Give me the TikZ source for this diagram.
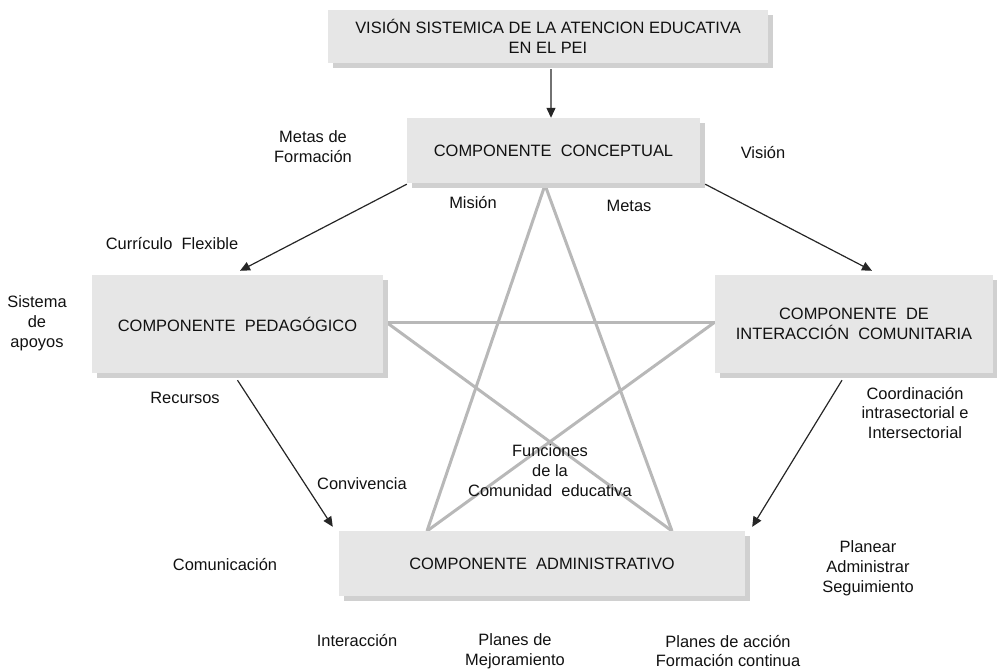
\documentclass[tikz,border=0pt]{standalone}
\usepackage{fontspec}
\setmainfont{Liberation Sans}
\usepackage{tikz}
\usetikzlibrary{calc}
\usetikzlibrary{shadows}
\usetikzlibrary{arrows.meta}
\definecolor{boxfill}{HTML}{E6E6E6}
\definecolor{boxshade}{HTML}{D0D0D0}
\definecolor{stargray}{HTML}{B8B8B8}
\definecolor{txt}{HTML}{111111}
\tikzset{
  comp/.style={fill=boxfill, inner sep=0pt, align=center, text=txt,
    general shadow={fill=boxshade, shadow xshift=5bp, shadow yshift=-5bp}},
  lbl/.style={align=center, text=txt, inner sep=1bp},
  arr/.style={draw=black!85, line width=1.2bp, -{Triangle[length=10bp,width=9bp]}},
  starline/.style={draw=stargray, line width=3bp}
}

\begin{document}
\begin{tikzpicture}[x=1bp, y=-1bp, font=\fontsize{16.5}{20}\selectfont]
        \useasboundingbox (0,0) rectangle (997,671);

        % star behind the boxes
        \coordinate (s1) at (545,185);
        \coordinate (s2) at (386,322);
        \coordinate (s3) at (715,322);
        \coordinate (s4) at (427,531);
        \coordinate (s5) at (672,531);
        \draw[starline] (s1) -- (s4);
        \draw[starline] (s1) -- (s5);
        \draw[starline] (s2) -- (s3);
        \draw[starline] (s2) -- (s5);
        \draw[starline] (s3) -- (s4);

        % boxes
        \node[comp, minimum width=440bp, minimum height=53bp] (vision) at (548,36.5)
            {VISIÓN SISTEMICA DE LA ATENCION EDUCATIVA\\EN EL PEI};
        \node[comp, minimum width=293bp, minimum height=65bp] (concep) at (553.5,150.5)
            {COMPONENTE\ \ CONCEPTUAL};
        \node[comp, minimum width=291bp, minimum height=98bp] (pedag) at (237.5,324)
            {COMPONENTE\ \ PEDAGÓGICO};
        \node[comp, minimum width=278bp, minimum height=98bp] (interac) at (854,324)
            {COMPONENTE\ \ DE\\INTERACCIÓN\ \ COMUNITARIA};
        \node[comp, minimum width=406bp, minimum height=65bp] (admin) at (542,563.5)
            {COMPONENTE\ \ ADMINISTRATIVO};

        % arrows
        \draw[arr] ([xshift=3bp,yshift=-6bp]vision.south) -- ([xshift=-2.5bp]concep.north);
        \draw[arr] ([yshift=-1bp]concep.south west) -- ([xshift=2.5bp,yshift=4bp]pedag.north);
        \draw[arr] ([xshift=5bp,yshift=-1bp]concep.south east) -- ([xshift=18bp,yshift=4bp]interac.north);
        \draw[arr] ([yshift=-7bp]pedag.south) -- ([xshift=-6bp,yshift=4bp]admin.north west);
        \draw[arr] ([xshift=-12bp,yshift=-7bp]interac.south) -- ([xshift=7bp,yshift=4bp]admin.north east);

        % labels
        \node[lbl] (metasform) at (313,147) {Metas de\\Formación};
        \node[lbl] (vis) at (763,153) {Visión};
        \node[lbl] (mision) at (473,203) {Misión};
        \node[lbl] (metas) at (629,206) {Metas};
        \node[lbl] (curric) at (172,244) {Currículo\ \ Flexible};
        \node[lbl] (apoyos) at (37,323) {Sistema\\de\\apoyos};
        \node[lbl] (recursos) at (185,398) {Recursos};
        \node[lbl] (coord) at (915,413) {Coordinación\\intrasectorial e\\Intersectorial};
        \node[lbl] (conviv) at (362,484) {Convivencia};
        \node[lbl] (funciones) at (550,471) {Funciones\\de la\\Comunidad\ \ educativa};
        \node[lbl] (comunic) at (225,565) {Comunicación};
        \node[lbl] (planear) at (868,568) {Planear\\Administrar\\Seguimiento};
        \node[lbl] (interacc) at (357,641) {Interacción};
        \node[lbl] (mejora) at (515,651) {Planes de\\Mejoramiento};
        \node[lbl] (accion) at (728,651) {Planes de acción\\Formación continua};
    \end{tikzpicture}
\end{document}
